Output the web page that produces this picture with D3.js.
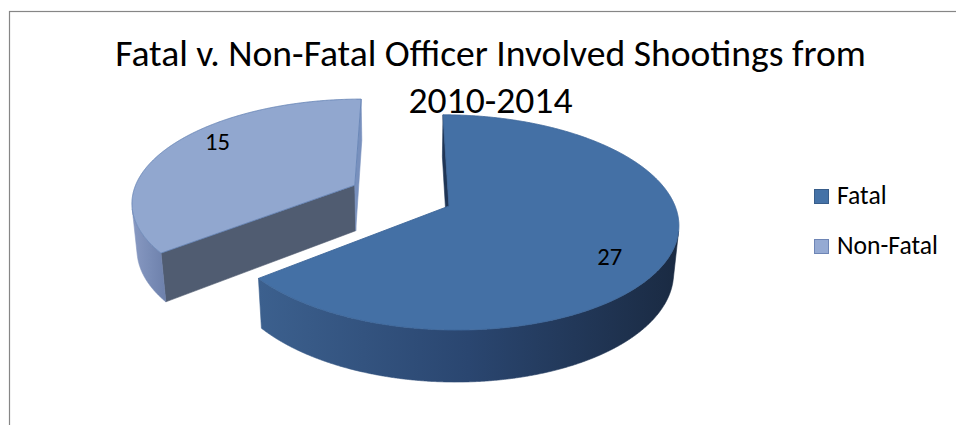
<!DOCTYPE html>
<html>
<head>
<meta charset="utf-8">
<script src="https://cdn.jsdelivr.net/npm/d3@7"></script>
<style>
  body { margin: 0; background: #fff; }
  svg { display: block; font-family: Carlito, Calibri, Lato, sans-serif; }
</style>
</head>
<body>
<div id="wrapper"></div>
<script>
// data
const categories = ["Fatal", "Non-Fatal"];
const counts = [27, 15];
const titleLines = ["Fatal v. Non-Fatal Officer Involved Shootings from", "2010-2014"];
const explodedCategory = "Non-Fatal";

function drawPie() {
  //* dimensions
  const width = 956;
  const height = 425;

  // simple perspective camera looking down on the pie
  const view = {
    cx: 449,
    cy: 206,
    focal: 1311,
    dist: 5.8,
    sinTilt: 0.465,
    camU: -0.2,
    depth: 0.237,
    explode: 0.47,
    labelRadius: 0.74,
  };
  view.cosTilt = Math.sqrt(1 - view.sinTilt * view.sinTilt);
  const camV = view.dist * view.cosTilt;

  const colors = {
    Fatal: { top: "#4470a5", edge: "#3d669a", wall: ["#3c608e", "#2a4670", "#1a2a42"], start: "#1f3556", end: "#1f3556", legend: "#4572a7", legendStroke: "#385d8a" },
    "Non-Fatal": { top: "#91a7cf", edge: "#6784b6", wall: ["#8899c2", "#7a8db7", "#6d80ab"], start: "#505c71", end: "#7890bd", legend: "#95aad3", legendStroke: "#6e85b5" },
  };

  //* canvas
  const svg = d3
    .select("#wrapper")
    .append("svg")
    .attr("width", width)
    .attr("height", height);

  // chart frame (only its top-left corner is inside the picture)
  svg
    .append("rect")
    .attr("x", 9.5)
    .attr("y", 11.5)
    .attr("width", 1200)
    .attr("height", 1200)
    .attr("fill", "none")
    .attr("stroke", "#868686")
    .attr("stroke-width", 1.2);

  const defs = svg.append("defs");

  //* projection
  function project(u, v, h) {
    const yp = v * view.sinTilt - h * view.cosTilt;
    const zp = view.dist - v * view.cosTilt - h * view.sinTilt;
    return [
      view.cx + (view.focal * (u - view.camU)) / zp + (view.focal * view.camU) / view.dist,
      view.cy + (view.focal * yp) / zp,
    ];
  }

  //* pie layout
  const pie = d3.pie().sort(null).value((d) => d.count);
  const slices = pie(categories.map((c, i) => ({ category: c, count: counts[i] })));

  slices.forEach((d) => {
    const mid = (d.startAngle + d.endAngle) / 2;
    const k = d.data.category === explodedCategory ? view.explode : 0;
    d.mid = mid;
    d.ou = k * Math.sin(mid);
    d.ov = -k * Math.cos(mid);
  });

  const rim = (d, a, h, r = 1) => project(d.ou + r * Math.sin(a), d.ov - r * Math.cos(a), h);
  const angleSteps = (a0, a1) => {
    const n = Math.max(2, Math.ceil(Math.abs(a1 - a0) / (Math.PI / 720)));
    return d3.range(n + 1).map((i) => a0 + ((a1 - a0) * i) / n);
  };
  const line = d3.line();
  const closed = (pts) => line(pts) + "Z";

  const H = -view.depth;
  const wallVisible = (d, a) =>
    Math.sin(a) * (view.camU - d.ou) - Math.cos(a) * (camV - d.ov) - 1 > 0;
  const faceVisible = (d, nx, ny) => nx * (view.camU - d.ou) + ny * (camV - d.ov) > 0;

  // far slices first
  const order = slices.slice().sort((a, b) => a.ov - b.ov);

  const pieGroup = svg.append("g");

  order.forEach((d) => {
    const c = colors[d.data.category];
    const g = pieGroup.append("g").attr("class", "slice");
    const center = project(d.ou, d.ov, 0);
    const centerLow = project(d.ou, d.ov, H);

    // radial faces
    const a0 = d.startAngle;
    const a1 = d.endAngle;
    if (faceVisible(d, -Math.cos(a0), -Math.sin(a0))) {
      g.append("path")
        .attr("d", closed([center, rim(d, a0, 0), rim(d, a0, H), centerLow]))
        .attr("fill", c.start)
        .attr("stroke", c.start)
        .attr("stroke-width", 0.6);
    }
    if (faceVisible(d, Math.cos(a1), Math.sin(a1))) {
      g.append("path")
        .attr("d", closed([center, rim(d, a1, 0), rim(d, a1, H), centerLow]))
        .attr("fill", c.end)
        .attr("stroke", c.end)
        .attr("stroke-width", 0.6);
    }

    // outer wall, only the part facing the camera
    const steps = angleSteps(a0, a1);
    const runs = [];
    let run = null;
    steps.forEach((a) => {
      if (wallVisible(d, a)) {
        if (!run) {
          run = [];
          runs.push(run);
        }
        run.push(a);
      } else {
        run = null;
      }
    });

    runs.forEach((r, ri) => {
      const topPts = r.map((a) => rim(d, a, 0));
      const lowPts = r.map((a) => rim(d, a, H)).reverse();
      const pts = topPts.concat(lowPts);
      const xs = d3.extent(pts, (p) => p[0]);
      const gid = `wall-${d.index}-${ri}`;
      const grad = defs
        .append("linearGradient")
        .attr("id", gid)
        .attr("gradientUnits", "userSpaceOnUse")
        .attr("x1", xs[0])
        .attr("x2", xs[1])
        .attr("y1", 0)
        .attr("y2", 0);
      c.wall.forEach((col, i) =>
        grad.append("stop").attr("offset", i / (c.wall.length - 1)).attr("stop-color", col)
      );
      g.append("path")
        .attr("d", closed(pts))
        .attr("fill", `url(#${gid})`)
        .attr("stroke", `url(#${gid})`)
        .attr("stroke-width", 0.6);
    });

    // top surface
    const topPts = [center].concat(steps.map((a) => rim(d, a, 0)));
    g.append("path")
      .attr("d", closed(topPts))
      .attr("fill", c.top)
      .attr("stroke", c.edge)
      .attr("stroke-width", 0.9)
      .attr("stroke-linejoin", "round");
  });

  //* data labels
  const labels = pieGroup
    .selectAll("text.value")
    .data(slices)
    .join("text")
    .attr("class", "value")
    .each(function (d) {
      const p = rim(d, d.mid, 0, view.labelRadius);
      const near = -Math.cos(d.mid) > 0;
      d3.select(this)
        .attr("x", p[0])
        .attr("y", p[1])
        .attr("dy", near ? "0.95em" : "-0.2em");
    })
    .attr("text-anchor", "middle")
    .attr("fill", "#000")
    .style("font-size", "20px")
    .text((d) => d.data.count);

  const labelW = d3.max(labels.nodes(), (n) => n.getComputedTextLength());
  labels.style("font-size", (20 * 25) / labelW + "px");

  //* title
  const title = svg
    .append("g")
    .selectAll("text")
    .data(titleLines)
    .join("text")
    .attr("x", 490.5)
    .attr("y", (d, i) => 66 + i * 46.5)
    .attr("text-anchor", "middle")
    .attr("fill", "#000")
    .style("font-size", "30px")
    .text((d) => d);

  const titleW = title.nodes()[0].getComputedTextLength();
  title.style("font-size", (30 * 751) / titleW + "px");

  //* legend
  const legend = svg
    .append("g")
    .selectAll("g")
    .data(categories)
    .join("g")
    .attr("transform", (d, i) => `translate(814, ${203.5 + i * 50})`);

  legend
    .append("rect")
    .attr("x", 0.5)
    .attr("y", -14)
    .attr("width", 14)
    .attr("height", 14)
    .attr("fill", (d) => colors[d].legend)
    .attr("stroke", (d) => colors[d].legendStroke)
    .attr("stroke-width", 1);

  const legendText = legend
    .append("text")
    .attr("x", 23)
    .attr("y", 0)
    .attr("fill", "#000")
    .style("font-size", "20px")
    .text((d) => d);

  const legendW = d3.max(legendText.nodes(), (n) => n.getComputedTextLength());
  legendText.style("font-size", (20 * 101) / legendW + "px");
}
drawPie();
</script>
</body>
</html>
